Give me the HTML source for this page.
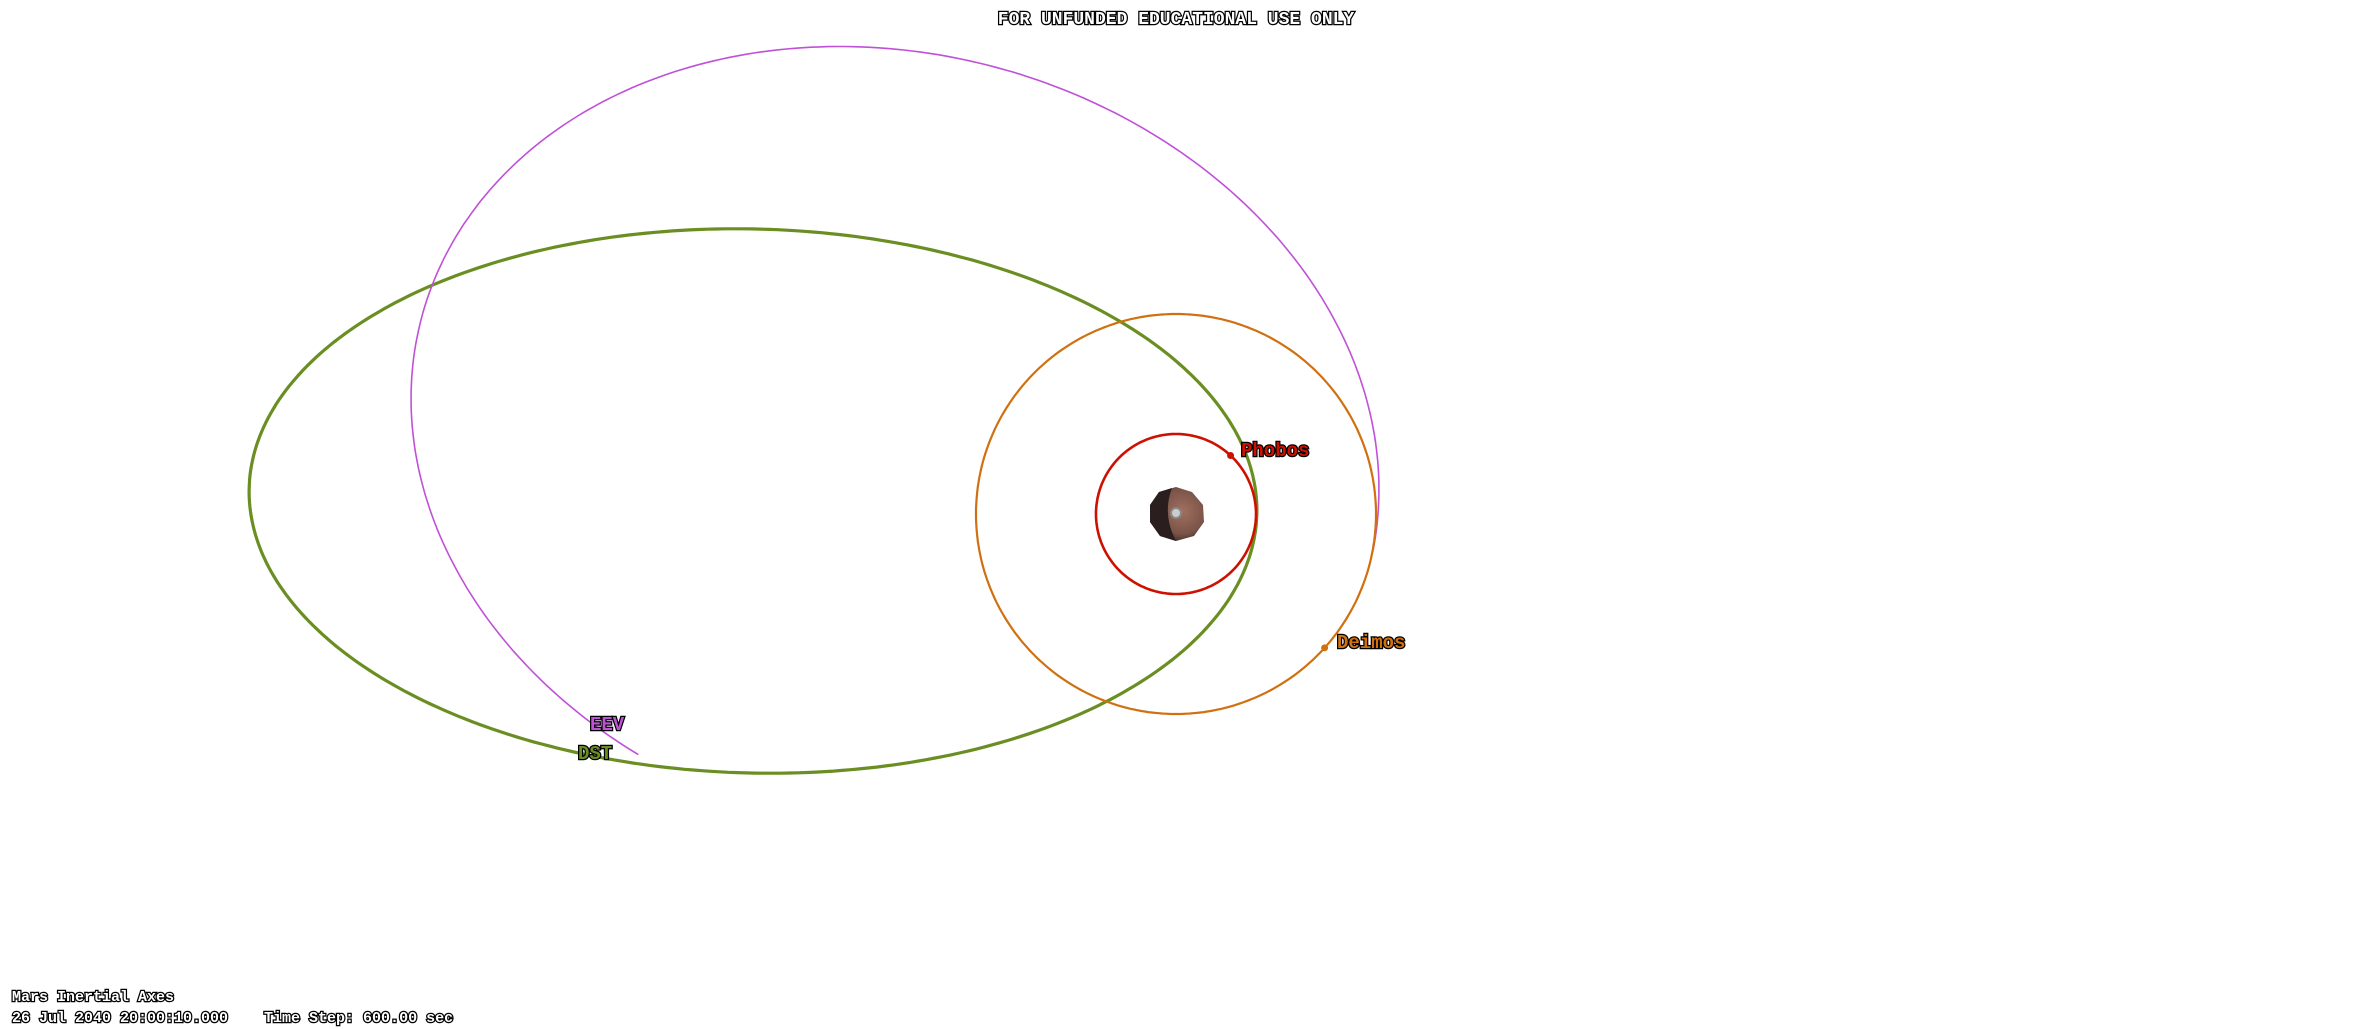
<!DOCTYPE html>
<html><head><meta charset="utf-8"><style>
html,body{margin:0;padding:0;background:#fff;width:2354px;height:1029px;overflow:hidden}
svg{display:block}
.lbl{font-family:"Liberation Mono",monospace;font-weight:bold;paint-order:stroke;stroke:#000;stroke-width:2.5px}
.w{fill:#fff;font-size:18px}
.s{fill:#fff;font-size:15px}
</style></head><body>
<svg id="scene" width="2354" height="1029" viewBox="0 0 2354 1029">
<text class="lbl w" x="1176" y="24" text-anchor="middle">FOR UNFUNDED EDUCATIONAL USE ONLY</text>
<text class="lbl s" x="12" y="1001">Mars Inertial Axes</text>
<text class="lbl s" x="12" y="1022" xml:space="preserve">26 Jul 2040 20:00:10.000    Time Step: 600.00 sec</text>
</svg>
<script>
const orbitNames=["DST","EEV","Deimos","Phobos"];
const orbitCx=[753,895,1176,1176];
const orbitCy=[501,444,514,514];
const orbitRx=[504,490,200,80];
const orbitRy=[272,390,200,80];
const orbitRot=[1.5,15,0,0];
const orbitStart=[0,-250,0,0];
const orbitEnd=[360,-3,360,360];
const orbitColors=["#6b8e23","#c050d8","#d07010","#cc1100"];
const orbitWidths=[3.2,1.6,2.2,2.6];
const moonAngles=[null,null,42,-47];
const labelPos=[[578,759],[590,730],[1337,648],[1241,456]];
const svg=document.getElementById('scene');
const NS="http://www.w3.org/2000/svg";
function pt(i,a){
  const t=a*Math.PI/180,r=orbitRot[i]*Math.PI/180;
  const x=orbitRx[i]*Math.cos(t),y=orbitRy[i]*Math.sin(t);
  return [orbitCx[i]+x*Math.cos(r)-y*Math.sin(r),orbitCy[i]+x*Math.sin(r)+y*Math.cos(r)];
}
const g=document.createElementNS(NS,'g');


g.innerHTML='<defs><radialGradient id="mg" cx="0.6" cy="0.45" r="0.6"><stop offset="0" stop-color="#a07060"/><stop offset="0.7" stop-color="#7a5448"/><stop offset="1" stop-color="#3a2a28"/></radialGradient></defs><polygon points="1176,487 1192,492 1203,505 1204,522 1194,536 1176,541 1160,536 1150,522 1150,505 1159,492" fill="url(#mg)"/><path d="M1150,505 L1159,492 L1172,488 Q1162,514 1176,541 L1160,536 L1150,522Z" fill="#2a1e1e"/><circle cx="1176" cy="513" r="5" fill="#ccc" stroke="#888" stroke-width="2"/>';
svg.appendChild(g);
for(let i=0;i<orbitNames.length;i++){
  const pts=[];
  for(let a=orbitStart[i];a<=orbitEnd[i];a+=1)pts.push(pt(i,a).map(v=>v.toFixed(1)).join(','));
  const p=document.createElementNS(NS,'polyline');
  p.setAttribute('points',pts.join(' '));
  p.setAttribute('fill','none');
  p.setAttribute('stroke',orbitColors[i]);
  p.setAttribute('stroke-width',orbitWidths[i]);
  
  
  svg.appendChild(p);
  if(moonAngles[i]!==null){
    const m=pt(i,moonAngles[i]);
    const c=document.createElementNS(NS,'circle');
    c.setAttribute('cx',m[0]);c.setAttribute('cy',m[1]);c.setAttribute('r',3.5);
    c.setAttribute('fill',orbitColors[i]);
    
    
    svg.appendChild(c);
  }
  const t=document.createElementNS(NS,'text');
  t.setAttribute('x',labelPos[i][0]);t.setAttribute('y',labelPos[i][1]);
  t.setAttribute('class','lbl');
  t.setAttribute('font-size','19');
  t.setAttribute('fill',orbitColors[i]);
  t.textContent=orbitNames[i];
  
  
  svg.appendChild(t);
}
</script>
</body></html>
